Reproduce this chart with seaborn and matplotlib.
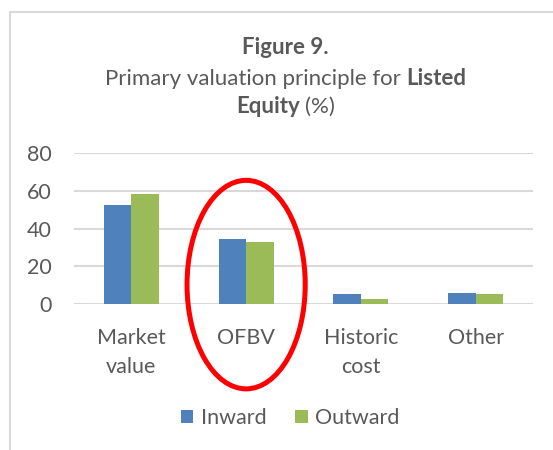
import matplotlib
matplotlib.use("Agg")
import matplotlib.pyplot as plt
from matplotlib.patches import Ellipse, Rectangle, Patch
import pandas as pd
import seaborn as sns

categories = ["Market\nvalue", "OFBV", "Historic\ncost", "Other"]
inward = [52.5, 34.5, 5.2, 5.8]
outward = [58.2, 33.0, 2.4, 5.3]
series_names = ["Inward", "Outward"]
colors = ["#4F81BD", "#9BBB59"]
text_color = "#595959"
grid_color = "#D9D9D9"

data = pd.DataFrame({
    "category": categories * 2,
    "series": [series_names[0]] * len(categories) + [series_names[1]] * len(categories),
    "value": inward + outward,
})

sns.set_theme(style="white")
plt.rcParams["font.family"] = ["Lato", "DejaVu Sans"]

W, H = 553, 450
FS = 15.5
fig = plt.figure(figsize=(W / 100, H / 100), dpi=100)
ax = fig.add_axes([74 / W, 1 - 304 / H, (533 - 74) / W, (304 - 153.3) / H])

sns.barplot(data=data, x="category", y="value", hue="series", palette=colors,
            width=0.48, gap=0, ax=ax, legend=False, linewidth=0, saturation=1)

ax.set_ylim(0, 80)
ax.set_xlim(-0.5, len(categories) - 0.5)
ax.set_yticks([0, 20, 40, 60, 80])
ax.yaxis.grid(True, color=grid_color, linewidth=1.5)
ax.set_axisbelow(True)
for s in ax.spines.values():
    s.set_visible(False)
ax.set_xlabel("")
ax.set_ylabel("")
ax.tick_params(axis="y", length=0, pad=16, labelsize=FS, labelcolor=text_color)
ax.tick_params(axis="x", length=0, pad=17, labelsize=FS, labelcolor=text_color)
for lbl in ax.get_xticklabels():
    lbl.set_linespacing(1.6)

# red ellipse round OFBV
idx = categories.index("OFBV")
ax.add_patch(Ellipse((idx, 10.3), width=1.03, height=110.7, fill=False,
                     edgecolor="red", linewidth=3.6, clip_on=False))

# legend
handles = [Patch(facecolor=c, edgecolor="none", label=n) for c, n in zip(colors, series_names)]
fig.legend(handles=handles, loc="center", bbox_to_anchor=(290 / W, 1 - 418 / H),
           ncol=2, frameon=False, fontsize=FS, handlelength=0.6, handleheight=0.6,
           handletextpad=0.35, columnspacing=1.3, labelcolor=text_color)

# outer frame
fig.patches.append(Rectangle((10 / W, -0.1), 1.2, 1.1 - 12.3 / H, transform=fig.transFigure,
                             fill=False, edgecolor=grid_color, linewidth=1.5))

# title with mixed bold parts
renderer = fig.canvas.get_renderer()


def width_px(s, weight):
    t = fig.text(0, 0, s, fontsize=FS + 0.5, fontweight=weight)
    w = t.get_window_extent(renderer).width
    t.remove()
    return w


def centered_line(parts, cx, baseline):
    space = width_px("x x", "normal") - width_px("xx", "normal")
    widths = [width_px(s, w) for s, w in parts]
    total = sum(widths) + space * (len(parts) - 1)
    x = cx - total / 2
    for (s, w), pw in zip(parts, widths):
        fig.text(x / W, 1 - baseline / H, s, fontsize=FS + 0.5, fontweight=w,
                 color=text_color, va="baseline", ha="left")
        x += pw + space


centered_line([("Figure 9.", "bold")], 285.5, 54)
centered_line([("Primary valuation principle for", "normal"), ("Listed", "bold")], 285.5, 85)
centered_line([("Equity", "bold"), ("(%)", "normal")], 285.5, 113)

fig.savefig("out.png", dpi=100)
